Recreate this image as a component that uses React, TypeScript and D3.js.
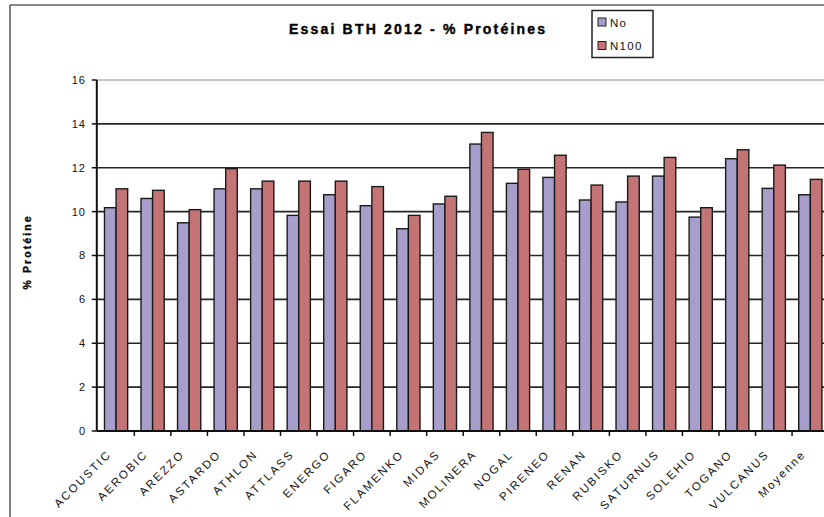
import * as d3 from "d3";
import React from "react";

const categories = [
  "ACOUSTIC", "AEROBIC", "AREZZO", "ASTARDO", "ATHLON", "ATTLASS", "ENERGO",
  "FIGARO", "FLAMENKO", "MIDAS", "MOLINERA", "NOGAL", "PIRENEO", "RENAN",
  "RUBISKO", "SATURNUS", "SOLEHIO", "TOGANO", "VULCANUS", "Moyenne",
];
const seriesNames = ["No", "N100"];
const valuesNo = [
  10.18, 10.6, 9.49, 11.04, 11.04, 9.83, 10.77, 10.27, 9.22, 10.35,
  13.08, 11.29, 11.56, 10.53, 10.44, 11.62, 9.75, 12.41, 11.06, 10.77,
];
const valuesN100 = [
  11.04, 10.97, 10.09, 11.96, 11.39, 11.39, 11.39, 11.14, 9.83, 10.7,
  13.61, 11.93, 12.57, 11.21, 11.62, 12.47, 10.18, 12.82, 12.12, 11.47,
];
const yTicks = [0, 2, 4, 6, 8, 10, 12, 14, 16];
const colors = ["#a79ecb", "#c47475"];

const W = 824;
const H = 517;
const left = 97.8;
const right = 828.6;
const top = 80;
const bottom = 431;

export default function App() {
  const x0 = d3.scaleBand<string>().domain(categories).range([left, right]).padding(0);
  const x1 = d3
    .scaleBand<string>()
    .domain(seriesNames)
    .range([0, x0.bandwidth()])
    .paddingInner(0)
    .paddingOuter(0.575);
  const y = d3.scaleLinear().domain([0, 16]).range([bottom, top]);
  const series = [valuesNo, valuesN100];
  const font = "Arial, 'Liberation Sans', sans-serif";

  return (
    <svg
      width={W}
      height={H}
      style={{ position: "absolute", left: 0, top: 0, background: "#fff" }}
      fontFamily={font}
    >
      {/* outer chart border */}
      <line x1={10} x2={W} y1={5} y2={5} stroke="#8a8a8a" strokeWidth={2} />
      <line x1={10} x2={10} y1={5} y2={H} stroke="#555" strokeWidth={1.5} />

      {/* title */}
      <text
        x={289}
        y={34}
        fontSize={14}
        fontWeight="bold"
        textLength={256}
        lengthAdjust="spacing"
        stroke="#000"
        strokeWidth={0.4}
      >
        Essai BTH 2012 - % Protéines
      </text>

      {/* legend */}
      <rect x={592} y={10.5} width={61} height={47} fill="#fff" stroke="#222" strokeWidth={1.5} />
      {seriesNames.map((s, i) => (
        <g key={s} transform={`translate(598,${18 + i * 23.5})`}>
          <rect width={8} height={8} fill={colors[i]} stroke="#222" strokeWidth={1} />
          <text x={12} y={8.5} fontSize={11.5} letterSpacing={1.3} fill="#111">
            {s}
          </text>
        </g>
      ))}

      {/* gridlines */}
      {yTicks.filter((t) => t > 0).map((t) => (
        <line
          key={t}
          x1={left - 1}
          x2={W}
          y1={y(t)}
          y2={y(t)}
          stroke={t === 16 ? "#cdc6bf" : "#262626"}
          strokeWidth={t === 16 ? 2 : 1.6}
        />
      ))}

      {/* bars */}
      {categories.map((c, i) => (
        <g key={c} transform={`translate(${x0(c)},0)`}>
          {seriesNames.map((s, j) => (
            <rect
              key={s}
              x={x1(s)}
              y={y(series[j][i])}
              width={x1.bandwidth()}
              height={y(0) - y(series[j][i])}
              fill={colors[j]}
              stroke="#1a1a1a"
              strokeWidth={1.4}
            />
          ))}
        </g>
      ))}

      {/* y axis */}
      <line x1={left - 1} x2={left - 1} y1={top} y2={bottom} stroke="#111" strokeWidth={2} />
      {yTicks.map((t) => (
        <g key={t}>
          <line x1={left - 6} x2={left - 1} y1={y(t)} y2={y(t)} stroke="#111" strokeWidth={1.5} />
          <text x={86} y={y(t)} dy="0.36em" textAnchor="end" fontSize={11} letterSpacing={1} fill="#111">
            {t}
          </text>
        </g>
      ))}
      <text
        transform="translate(31,253) rotate(-90)"
        textAnchor="middle"
        fontSize={10.5}
        fontWeight="bold"
        textLength={73}
        lengthAdjust="spacing"
        stroke="#000"
        strokeWidth={0.3}
      >
        % Protéine
      </text>

      {/* x axis */}
      <line x1={left - 1} x2={W} y1={bottom} y2={bottom} stroke="#111" strokeWidth={2} />
      {categories.map((c) => (
        <line
          key={c}
          x1={(x0(c) ?? 0) + x0.bandwidth()}
          x2={(x0(c) ?? 0) + x0.bandwidth()}
          y1={bottom}
          y2={bottom + 5}
          stroke="#111"
          strokeWidth={1.5}
        />
      ))}
      {categories.map((c) => {
        const cx = (x0(c) ?? 0) + x0.bandwidth() / 2 - 4;
        return (
          <text
            key={c}
            transform={`translate(${cx},455) rotate(-45)`}
            textAnchor="end"
            fontSize={11.5}
            letterSpacing={2}
            fill="#111"
          >
            {c}
          </text>
        );
      })}
    </svg>
  );
}
